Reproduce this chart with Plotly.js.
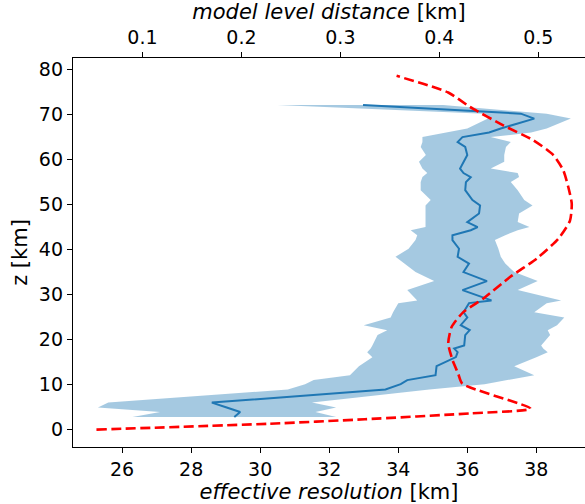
<!DOCTYPE html>
<html>
<head>
<meta charset="utf-8">
<script src="https://cdn.plot.ly/plotly-3.0.1.min.js"></script>
<style>html,body{margin:0;padding:0;background:#fff;overflow:hidden;}#plot{width:585px;height:504px;}</style>
</head>
<body>
<div id="plot"></div>
<script>
// Effective resolution profile (km) at heights z (km)
const zLevels = [2.8, 3.9, 4.9, 6.0, 8.9, 10.1, 11.0, 12.1, 14.1, 16.1, 17.2, 18.0, 18.7, 21.0, 22.1, 23.2, 24.9, 26.1, 28.1, 28.7, 31.0, 33.0, 35.0, 36.9, 38.4, 40.2, 42.1, 43.2, 44.3, 45.0, 46.1, 48.0, 49.8, 51.0, 53.2, 55.0, 56.1, 57.0, 58.0, 59.5, 61.0, 62.8, 63.9, 65.0, 66.0, 66.9, 69.1, 70.2, 72.1];
const resMean = [29.25, 29.42, 29.03, 28.6, 33.63, 34.07, 34.26, 35.08, 35.11, 35.67, 35.72, 35.62, 35.91, 35.94, 36.07, 35.81, 36.0, 35.89, 36.05, 36.7, 35.86, 36.57, 35.89, 36.05, 35.72, 35.76, 35.57, 35.57, 36.1, 36.3, 36.0, 36.34, 36.37, 36.15, 35.94, 35.96, 36.1, 35.89, 35.79, 35.89, 36.0, 35.94, 35.72, 35.86, 36.63, 36.97, 37.94, 37.55, 32.98];
const resLow  = [26.3, 27.1, 25.3, 25.6, 30.8, 31.3, 31.55, 32.6, 32.86, 33.25, 33.1, 33.2, 33.25, 33.4, 33.68, 33.0, 33.78, 33.85, 34.0, 34.55, 34.26, 35.04, 34.5, 34.16, 33.92, 34.3, 34.5, 34.55, 34.36, 34.79, 34.79, 34.79, 34.79, 34.94, 34.65, 34.65, 34.7, 34.84, 34.7, 34.6, 34.8, 34.65, 34.7, 34.7, 35.33, 36.0, 36.6, 36.5, 30.5];
const resHigh = [32.2, 31.6, 32.2, 31.5, 34.9, 36.5, 37.2, 37.94, 37.36, 38.0, 38.33, 38.2, 38.14, 38.4, 38.33, 38.6, 38.81, 37.94, 38.3, 38.72, 37.46, 38.04, 37.36, 37.1, 36.97, 36.9, 36.8, 37.1, 37.46, 37.8, 37.46, 37.5, 37.89, 37.65, 37.46, 37.26, 37.5, 37.46, 36.68, 37.07, 37.07, 37.12, 37.26, 36.68, 37.85, 38.3, 39.0, 38.3, 35.3];

// Model level distance (km) vs height z (km)
const zModel = [0.0, 1.3, 2.3, 3.6, 4.67, 10.2, 12.4, 15.4, 19.1, 22.8, 26.1, 29.1, 33.9, 38.0, 42.4, 46.4, 50.2, 53.9, 57.6, 61.0, 64.3, 67.6, 71.7, 74.9, 78.6];
const levelDist = [0.0535, 0.2287, 0.3248, 0.4309, 0.4921, 0.4232, 0.4191, 0.4134, 0.4090, 0.4124, 0.4242, 0.4444, 0.4714, 0.4984, 0.5202, 0.5320, 0.5338, 0.5303, 0.5253, 0.5152, 0.4949, 0.4646, 0.4309, 0.4090, 0.3568];

const bottomTicks = [26, 28, 30, 32, 34, 36, 38];
const topTicks = [0.1, 0.2, 0.3, 0.4, 0.5];
const yTicks = [0, 10, 20, 30, 40, 50, 60, 70, 80];

const bandX = resLow.concat(resHigh.slice().reverse());
const bandY = zLevels.concat(zLevels.slice().reverse());

const tickFont = {family: 'DejaVu Sans, sans-serif', size: 19, color: '#000'};
const titleFont = {family: 'DejaVu Sans, sans-serif', size: 21, color: '#000'};

const traces = [
  {x: bandX, y: bandY, type: 'scatter', mode: 'lines', fill: 'toself',
   fillcolor: 'rgba(31,119,180,0.4)', line: {width: 0}, hoverinfo: 'skip', showlegend: false},
  {x: resMean, y: zLevels, type: 'scatter', mode: 'lines',
   line: {color: '#1f77b4', width: 2}, showlegend: false},
  {x: levelDist, y: zModel, type: 'scatter', mode: 'lines', xaxis: 'x2',
   line: {color: '#ff0000', width: 2.6, dash: '10px,4.5px', shape: 'spline', smoothing: 0.6}, showlegend: false}
];

const axisCommon = {showgrid: false, zeroline: false, showline: true, linecolor: '#000', linewidth: 1.2,
  ticks: 'outside', ticklen: 5, tickwidth: 1.2, tickcolor: '#000', tickfont: tickFont};

const layout = {
  width: 585, height: 504,
  margin: {l: 73.3, r: 0, t: 57.7, b: 57.3, pad: 0},
  paper_bgcolor: '#fff', plot_bgcolor: '#fff',
  font: tickFont,
  showlegend: false,
  xaxis: Object.assign({}, axisCommon, {
    range: [24.577, 39.41], tickvals: bottomTicks, ticktext: bottomTicks.map(String),
    title: {text: '<i>effective resolution</i> [km]', font: titleFont, standoff: 1}
  }),
  xaxis2: Object.assign({}, axisCommon, {
    overlaying: 'x', side: 'top', anchor: 'y',
    range: [0.0298, 0.5472], tickvals: topTicks, ticktext: topTicks.map(v => v.toFixed(1)),
    title: {text: '<i>model level distance</i> [km]', font: titleFont, standoff: 0}
  }),
  yaxis: Object.assign({}, axisCommon, {
    range: [-3.87, 82.57], tickvals: yTicks, ticktext: yTicks.map(String),
    title: {text: 'z [km]', font: titleFont, standoff: 5}
  })
};

Plotly.newPlot('plot', traces, layout, {staticPlot: true, displayModeBar: false});
</script>
</body>
</html>
